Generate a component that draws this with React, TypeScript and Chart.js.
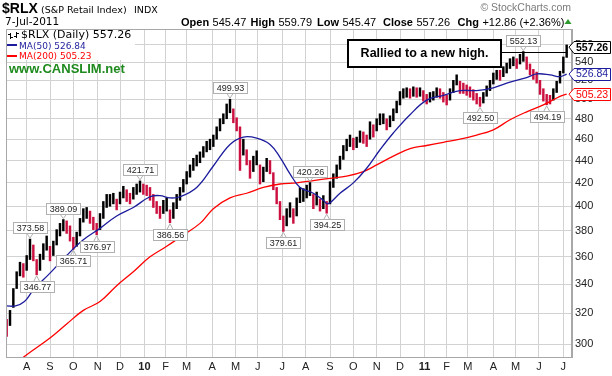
import React, { useEffect, useRef } from 'react';
import { Chart, registerables } from 'chart.js';

Chart.register(...registerables);

// ---------- data ----------
const monthTickDays = [18, 39, 60, 82, 102, 124, 143, 162, 185, 206, 226, 248, 269, 291, 312, 333, 354, 376, 396, 415, 438, 458, 479, 501];
const monthTickLabels = ['A', 'S', 'O', 'N', 'D', '10', 'F', 'M', 'A', 'M', 'J', 'J', 'A', 'S', 'O', 'N', 'D', '11', 'F', 'M', 'A', 'M', 'J', 'J'];
const priceTickValues = [300, 320, 340, 360, 380, 400, 420, 440, 460, 480, 500, 520, 540, 560];

const daysPerBar = 3;
const barHighs = [
  316, 322, 337, 349, 356, 355, 361, 373.58, 369, 358, 362, 370, 376, 368, 372, 381, 386, 389.09, 388, 384,
  375, 379, 390, 398, 399, 396, 391, 386, 394, 404, 410, 410, 411, 406, 412, 417, 414, 411, 416, 419,
  421.71, 419, 418, 416, 410, 404, 400, 405, 407, 397, 403, 410, 416, 423, 430, 436, 442, 445, 448, 453,
  458, 460, 464, 472, 480, 485, 495, 499.93, 490, 481, 472, 460, 450, 440, 444, 449, 436, 434, 442, 440,
  429, 416, 404, 392, 398, 403, 398, 407, 416, 415, 418, 420.26, 410, 412, 406, 409, 404, 421, 428, 436,
  444, 454, 460, 464, 461, 462, 468, 467, 464, 477, 474, 480, 485, 485, 480, 483, 490, 498, 508, 511,
  512, 511, 513, 512, 512, 509, 505, 507, 508, 512, 511, 507, 504, 511, 520, 526, 519, 517, 515, 513,
  510, 506, 502, 507, 514, 520, 528, 531, 531, 535, 539, 544, 546, 544, 549, 552.13, 546, 538, 532, 529,
  520, 511, 505, 504, 511, 519, 530, 546, 559.79,
];
const barLows = [
  305, 312, 324, 337, 346, 345, 350, 358, 357, 346.77, 350, 358, 365, 357, 361, 369, 376, 380, 378, 372,
  365.71, 368, 376, 387, 390, 386, 381, 376.97, 381, 390, 399, 400, 402, 397, 402, 407, 404, 402, 406, 410,
  412, 410, 409, 405, 399, 394, 390, 394, 396, 386.56, 390, 398, 405, 412, 419, 425, 431, 435, 438, 443,
  448, 450, 453, 460, 468, 475, 480, 486, 476, 468, 431, 445, 436, 424, 430, 436, 419, 421, 430, 428,
  414, 402, 389, 379.61, 384, 391, 386, 392, 403, 404, 407, 409, 398, 401, 396, 398, 394.25, 402, 416, 424,
  432, 441, 449, 453, 450, 452, 457, 456, 453, 460, 462, 468, 474, 475, 469, 472, 478, 486, 494, 501,
  502, 501, 503, 502, 503, 498, 495, 497, 499, 502, 501, 497, 494, 499, 507, 515, 506, 506, 504, 502,
  499, 495, 492.5, 496, 503, 509, 516, 521, 520, 524, 528, 533, 536, 533, 538, 541, 532, 526, 521, 517,
  505, 498, 494.19, 495, 499, 507, 517, 528, 545.47,
];

const ma50Days = [0, 8, 16, 24, 39, 54, 69, 84, 99, 114, 129, 138, 147, 156, 171, 186, 201, 213, 225, 237, 246, 255, 264, 276, 285, 289, 300, 312, 324, 336, 348, 363, 378, 393, 408, 423, 438, 453, 468, 477, 489, 498, 504];
const ma50Values = [325, 325, 328, 336, 348, 361, 373, 382, 392, 399, 408, 409, 407, 408, 416, 435, 455, 462, 461, 455, 443, 428, 416, 411, 405, 402, 411, 420, 433, 450, 466, 484, 499, 504, 509, 509, 512, 518, 523, 527, 526, 524, 526.84];
const ma200Days = [8, 15, 39, 54, 69, 84, 99, 114, 129, 144, 156, 174, 186, 201, 216, 231, 246, 261, 276, 291, 306, 321, 333, 348, 363, 378, 393, 408, 423, 438, 453, 468, 483, 498, 504];
const ma200Values = [287, 292, 304, 313, 322, 328, 339, 349, 360, 368, 375, 386, 398, 407, 411, 416, 419, 420, 422, 424, 426, 430, 436, 444, 451, 454, 457, 460, 464, 469, 479, 487, 494, 503, 505.23];

const peakBars = [7, 17, 40, 67, 91, 155];
const troughBars = [9, 20, 27, 49, 83, 96, 142, 162];
const priorHighBar = 155;

const lastOpen = 545.47;
const lastHigh = 559.79;
const lastLow = 545.47;
const lastClose = 557.26;
const lastChange = 12.86;
const lastChangePct = 2.36;
const ma50Last = 526.84;
const ma200Last = 505.23;
const dateLabel = '7-Jul-2011';

// ---------- styling ----------
const SANS = '"Liberation Sans", Arial, sans-serif';
const VERD = '"DejaVu Sans", Verdana, sans-serif';
const UP = '#000000';
const DOWN = '#cc1140';
const BLUE = '#1c1c9c';
const RED = '#ff0000';
const GRID = '#d2d2d2';

function valueLabel(ctx: CanvasRenderingContext2D, x: number, y: number, text: string, above: boolean) {
  ctx.font = `9px ${SANS}`;
  const tw = ctx.measureText(text).width;
  const w = Math.round(tw + 6);
  const h = 11;
  const gap = 6;
  const bx = Math.round(x - w / 2) + 0.5;
  const by = above ? Math.round(y - gap - h) + 0.5 : Math.round(y + gap) + 0.5;
  ctx.strokeStyle = '#b0b0b0';
  ctx.lineWidth = 1;
  ctx.beginPath();
  if (above) {
    ctx.moveTo(x - 3, by + h);
    ctx.lineTo(x, y - 1);
    ctx.lineTo(x + 3, by + h);
  } else {
    ctx.moveTo(x - 3, by);
    ctx.lineTo(x, y + 1);
    ctx.lineTo(x + 3, by);
  }
  ctx.stroke();
  ctx.fillStyle = '#fff';
  ctx.fillRect(bx, by, w, h);
  ctx.strokeRect(bx, by, w, h);
  ctx.fillStyle = '#222';
  ctx.textAlign = 'center';
  ctx.textBaseline = 'middle';
  ctx.fillText(text, bx + w / 2, by + h / 2 + 0.5);
}

function sideTag(ctx: CanvasRenderingContext2D, left: number, y: number, text: string, color: string, bold: boolean) {
  ctx.font = `${bold ? 'bold ' : ''}10.5px ${SANS}`;
  const tw = ctx.measureText(text).width;
  const h = 12;
  const arrow = 5;
  const x1 = left + arrow;
  const x2 = Math.round(x1 + tw + 4) + 0.5;
  const top = Math.round(y - h / 2) + 0.5;
  const bot = top + h;
  ctx.beginPath();
  ctx.moveTo(left, y);
  ctx.lineTo(x1, top);
  ctx.lineTo(x2, top);
  ctx.lineTo(x2, bot);
  ctx.lineTo(x1, bot);
  ctx.closePath();
  ctx.fillStyle = '#fff';
  ctx.fill();
  ctx.strokeStyle = color;
  ctx.lineWidth = 1;
  ctx.stroke();
  ctx.fillStyle = color;
  ctx.textAlign = 'left';
  ctx.textBaseline = 'middle';
  ctx.fillText(text, x1 + 2, y + 0.5);
}

const overlayPlugin = {
  id: 'overlay',
  beforeDatasetsDraw(chart: any) {
    const { ctx, chartArea: a } = chart;
    ctx.save();
    // legend background
    ctx.fillStyle = '#fff';
    ctx.fillRect(a.left + 1, a.top + 1, 128, 30);
    // OHLC icon
    ctx.strokeStyle = '#000';
    ctx.lineWidth = 1;
    ctx.beginPath();
    ctx.moveTo(10.5, a.top + 4); ctx.lineTo(10.5, a.top + 10);
    ctx.moveTo(8, a.top + 5.5); ctx.lineTo(10.5, a.top + 5.5);
    ctx.moveTo(10.5, a.top + 8.5); ctx.lineTo(13, a.top + 8.5);
    ctx.moveTo(16.5, a.top + 3); ctx.lineTo(16.5, a.top + 9);
    ctx.moveTo(14, a.top + 7.5); ctx.lineTo(16.5, a.top + 7.5);
    ctx.moveTo(16.5, a.top + 4.5); ctx.lineTo(19, a.top + 4.5);
    ctx.stroke();
    ctx.textAlign = 'left';
    ctx.textBaseline = 'alphabetic';
    ctx.fillStyle = '#000';
    ctx.font = `11px ${VERD}`;
    ctx.fillText(`$RLX (Daily) ${lastClose.toFixed(2)}`, 21, a.top + 8.5);
    ctx.font = `9px ${VERD}`;
    ctx.fillStyle = BLUE;
    ctx.fillRect(7, a.top + 15, 10, 2);
    ctx.fillText(`MA(50) ${ma50Last.toFixed(2)}`, 19, a.top + 19.5);
    ctx.fillStyle = RED;
    ctx.fillRect(7, a.top + 26, 10, 2);
    ctx.fillText(`MA(200) ${ma200Last.toFixed(2)}`, 19, a.top + 30);
    ctx.restore();
  },
  afterDatasetsDraw(chart: any) {
    const { ctx, chartArea: a, scales } = chart;
    const xs = scales.x;
    const ys = scales.y;
    ctx.save();
    // CANSLIM
    ctx.font = `bold 13px ${SANS}`;
    ctx.fillStyle = '#1e8a1e';
    ctx.textAlign = 'left';
    ctx.textBaseline = 'alphabetic';
    ctx.fillText('www.CANSLIM.net', 9, a.top + 44);

    // annotation box + prior high line
    const lineY = Math.round(ys.getPixelForValue(barHighs[priorHighBar])) + 0.5;
    const lastX = xs.getPixelForValue((barHighs.length - 1) * daysPerBar);
    const boxL = 348, boxR = 501, boxT = 40, boxB = 67;
    ctx.strokeStyle = '#000';
    ctx.lineWidth = 1;
    ctx.beginPath();
    ctx.moveTo(boxR, lineY);
    ctx.lineTo(lastX + 1, lineY);
    ctx.stroke();
    ctx.fillStyle = '#fff';
    ctx.fillRect(boxL, boxT, boxR - boxL, boxB - boxT);
    ctx.lineWidth = 2;
    ctx.strokeRect(boxL, boxT, boxR - boxL, boxB - boxT);
    ctx.fillStyle = '#000';
    ctx.font = `bold 12.5px ${SANS}`;
    ctx.textAlign = 'center';
    ctx.textBaseline = 'middle';
    ctx.fillText('Rallied to a new high.', (boxL + boxR) / 2, (boxT + boxB) / 2 + 0.5);

    // peak / trough labels
    peakBars.forEach((b) => {
      const v = barHighs[b];
      valueLabel(ctx, xs.getPixelForValue(b * daysPerBar), ys.getPixelForValue(v), v.toFixed(2), true);
    });
    troughBars.forEach((b) => {
      const v = barLows[b];
      valueLabel(ctx, xs.getPixelForValue(b * daysPerBar), ys.getPixelForValue(v), v.toFixed(2), false);
    });
    ctx.restore();
  },
  afterDraw(chart: any) {
    const { ctx, chartArea: a, scales } = chart;
    const ys = scales.y;
    ctx.save();
    // plot frame
    ctx.strokeStyle = '#a8a8a8';
    ctx.lineWidth = 1;
    ctx.strokeRect(Math.round(a.left) + 0.5, Math.round(a.top) + 0.5, Math.round(a.right - a.left) - 1, Math.round(a.bottom - a.top));

    // right tags
    sideTag(ctx, a.right - 3, ys.getPixelForValue(ma200Last), ma200Last.toFixed(2), RED, false);
    sideTag(ctx, a.right - 3, ys.getPixelForValue(ma50Last), ma50Last.toFixed(2), BLUE, false);
    sideTag(ctx, a.right - 3, ys.getPixelForValue(lastClose), lastClose.toFixed(2), '#000', true);

    // header
    ctx.textAlign = 'left';
    ctx.textBaseline = 'alphabetic';
    ctx.fillStyle = '#000';
    ctx.font = `bold 14px ${SANS}`;
    ctx.fillText('$RLX', 2, 13);
    ctx.font = `9.5px ${VERD}`;
    ctx.fillText('(S&P Retail Index)', 41, 12.5);
    ctx.fillText('INDX', 134, 12.5);
    ctx.font = `10.5px ${VERD}`;
    ctx.fillText(dateLabel, 5, 25);

    const pairs: [string, string][] = [
      ['Open', lastOpen.toFixed(2)],
      ['High', lastHigh.toFixed(2)],
      ['Low', lastLow.toFixed(2)],
      ['Close', lastClose.toFixed(2)],
      ['Chg', `+${lastChange.toFixed(2)} (+${lastChangePct.toFixed(2)}%)`],
    ];
    const labelX = [181, 250.5, 317, 383, 457.5];
    pairs.forEach(([label, val], i) => {
      ctx.font = `bold 11px ${SANS}`;
      ctx.fillText(label, labelX[i], 25.5);
      const w = ctx.measureText(label).width;
      ctx.font = `11px ${SANS}`;
      ctx.fillText(val, labelX[i] + w + 3.5, 25.5);
    });
    // up triangle
    ctx.fillStyle = '#2e9a2e';
    ctx.beginPath();
    ctx.moveTo(564.5, 24);
    ctx.lineTo(571.5, 24);
    ctx.lineTo(568, 19);
    ctx.closePath();
    ctx.fill();

    ctx.fillStyle = '#7a7a7a';
    ctx.font = `10.5px ${SANS}`;
    ctx.textAlign = 'right';
    ctx.fillText('\u00a9 StockCharts.com', 571, 11);
    ctx.restore();
  },
};

export default function App() {
  const canvasRef = useRef<HTMLCanvasElement | null>(null);

  useEffect(() => {
    const canvas = canvasRef.current;
    if (!canvas) return;

    const mids = barHighs.map((h, i) => (h + barLows[i]) / 2);
    const barColors = mids.map((m, i) => (i === 0 ? DOWN : m >= mids[i - 1] ? UP : DOWN));
    const barData = barHighs.map((h, i) => ({ x: i * daysPerBar, y: [barLows[i], h] }));

    const chart = new Chart(canvas, {
      type: 'bar',
      data: {
        datasets: [
          {
            type: 'line',
            data: ma50Days.map((d, i) => ({ x: d, y: ma50Values[i] })),
            borderColor: BLUE,
            borderWidth: 1.3,
            pointRadius: 0,
            tension: 0.4,
            fill: false,
            order: 0,
          } as any,
          {
            type: 'line',
            data: ma200Days.map((d, i) => ({ x: d, y: ma200Values[i] })),
            borderColor: RED,
            borderWidth: 1.3,
            pointRadius: 0,
            tension: 0.4,
            fill: false,
            order: 1,
          } as any,
          {
            type: 'bar',
            data: barData as any,
            backgroundColor: barColors,
            borderWidth: 0,
            barThickness: 1.8,
            order: 2,
          } as any,
        ],
      },
      options: {
        animation: false,
        responsive: false,
        maintainAspectRatio: false,
        layout: { padding: { top: 29, left: 6, right: 0, bottom: 0 } },
        plugins: { legend: { display: false }, tooltip: { enabled: false } },
        scales: {
          x: {
            type: 'linear',
            min: -0.6,
            max: 508.8,
            offset: false,
            grid: { color: GRID, drawTicks: false, offset: false },
            border: { color: '#a8a8a8' },
            afterBuildTicks: (s: any) => {
              s.ticks = monthTickDays.map((v) => ({ value: v }));
            },
            afterFit: (s: any) => {
              s.height = 19;
            },
            ticks: {
              autoSkip: false,
              maxRotation: 0,
              padding: 3,
              color: '#222',
              font: (c: any) => ({
                family: SANS,
                size: 11,
                weight: c.tick && (c.tick.value === 124 || c.tick.value === 376) ? 'bold' : 'normal',
              }),
              callback: (v: any) => {
                const i = monthTickDays.indexOf(Number(v));
                return i >= 0 ? monthTickLabels[i] : '';
              },
            },
          },
          y: {
            type: 'logarithmic',
            position: 'right',
            min: 292.2,
            max: 578.7,
            grid: { color: GRID, drawTicks: false },
            border: { color: '#a8a8a8' },
            afterBuildTicks: (s: any) => {
              s.ticks = priceTickValues.map((v) => ({ value: v }));
            },
            afterFit: (s: any) => {
              s.width = 40;
            },
            ticks: {
              autoSkip: false,
              padding: 3,
              color: '#222',
              font: { family: SANS, size: 11 },
              callback: (v: any) => String(v),
            },
          },
        },
      } as any,
      plugins: [overlayPlugin],
    });

    return () => chart.destroy();
  }, []);

  return (
    <div style={{ position: 'absolute', left: 0, top: 0, width: 612, height: 376, background: '#fff' }}>
      <canvas ref={canvasRef} width={612} height={376} style={{ display: 'block' }} />
    </div>
  );
}
